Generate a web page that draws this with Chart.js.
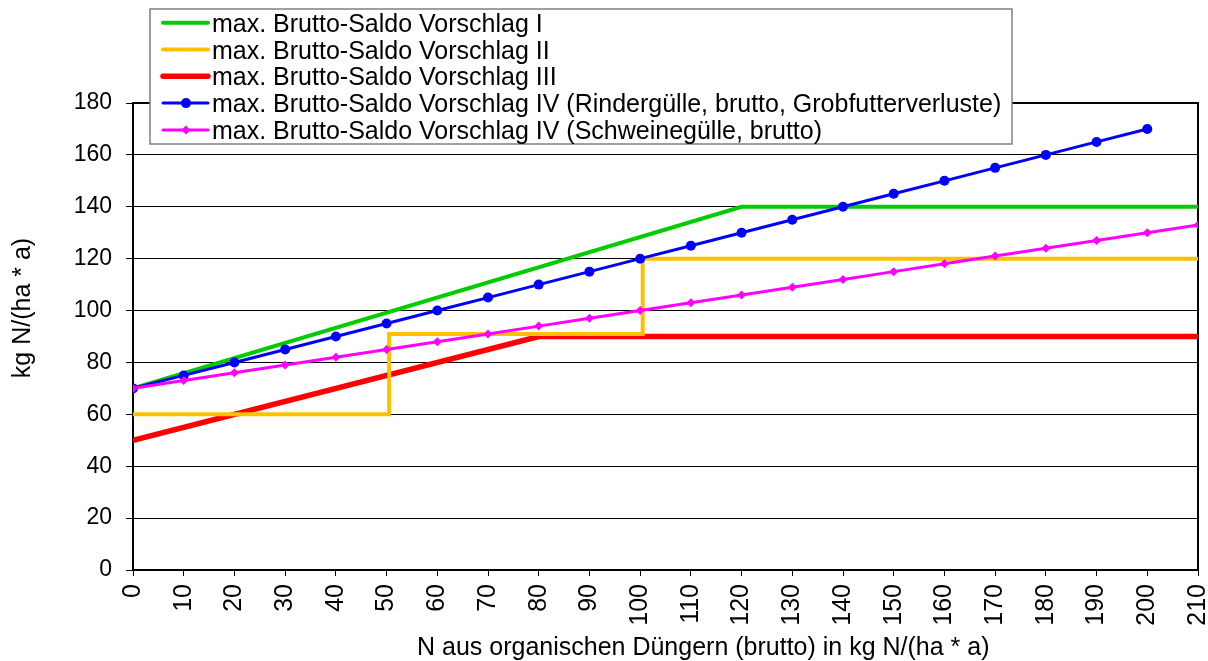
<!DOCTYPE html>
<html>
<head>
<meta charset="utf-8">
<script src="https://cdn.jsdelivr.net/npm/chart.js@4"></script>
<style>
  html, body { margin: 0; padding: 0; background: #fff; }
  canvas { display: block; }
</style>
</head>
<body>
<canvas id="chart" width="1208" height="661"></canvas>
<script>
// series labels
const seriesNames = [
  'max. Brutto-Saldo Vorschlag I',
  'max. Brutto-Saldo Vorschlag II',
  'max. Brutto-Saldo Vorschlag III',
  'max. Brutto-Saldo Vorschlag IV (Rindergülle, brutto, Grobfutterverluste)',
  'max. Brutto-Saldo Vorschlag IV (Schweinegülle, brutto)'
];

// Vorschlag I
const xI = [0, 120, 210];
const yI = [70, 140, 140];

// Vorschlag II (step line)
const xII = [0, 50.5, 50.5, 100.5, 100.5, 210];
const yII = [60, 60, 91, 91, 120, 120];

// Vorschlag III
const xIII = [0, 80, 210];
const yIII = [50, 90, 90];

// Vorschlag IV Rindergülle
const xRind = [0, 10, 20, 30, 40, 50, 60, 70, 80, 90, 100, 110, 120, 130, 140, 150, 160, 170, 180, 190, 200];
const yRind = [70, 75, 80, 85, 90, 95, 100, 105, 110, 115, 120, 125, 130, 135, 140, 145, 150, 155, 160, 165, 170];

// Vorschlag IV Schweinegülle
const xSchw = [0, 10, 20, 30, 40, 50, 60, 70, 80, 90, 100, 110, 120, 130, 140, 150, 160, 170, 180, 190, 200, 210];
const ySchw = [70, 73, 76, 79, 82, 85, 88, 91, 94, 97, 100, 103, 106, 109, 112, 115, 118, 121, 124, 127, 130, 133];

const xTitle = 'N aus organischen Düngern (brutto) in kg N/(ha * a)';
const yTitle = 'kg N/(ha * a)';

const FONT = "'Liberation Sans', Arial, sans-serif";

function pts(xs, ys) {
  return xs.map((x, i) => ({ x: x, y: ys[i] }));
}

const framePlugin = {
  id: 'frame',
  beforeDatasetsDraw(chart) {
    const a = chart.chartArea;
    const ctx = chart.ctx;
    ctx.save();
    ctx.strokeStyle = '#000';
    ctx.lineWidth = 2;
    ctx.strokeRect(a.left, a.top, a.right - a.left, a.bottom - a.top);
    ctx.restore();
  },
  afterDraw(chart) {
    const ctx = chart.ctx;
    ctx.save();

    // axis titles
    ctx.fillStyle = '#000';
    ctx.font = '25px ' + FONT;
    ctx.textAlign = 'left';
    ctx.textBaseline = 'alphabetic';
    ctx.fillText(xTitle, 417, 655);
    ctx.translate(30, 308);
    ctx.rotate(-Math.PI / 2);
    ctx.textAlign = 'center';
    ctx.fillText(yTitle, 0, 0);
    ctx.setTransform(1, 0, 0, 1, 0, 0);

    // legend box
    ctx.fillStyle = '#fff';
    ctx.fillRect(150, 9, 862, 135);
    ctx.strokeStyle = '#808080';
    ctx.lineWidth = 1.5;
    ctx.strokeRect(150, 9, 862, 135);

    chart.data.datasets.forEach((ds, i) => {
      const y = 22.7 + i * 26.8;
      ctx.strokeStyle = ds.borderColor;
      ctx.lineWidth = ds.borderWidth;
      ctx.lineCap = 'round';
      ctx.beginPath();
      ctx.moveTo(163, y);
      ctx.lineTo(208, y);
      ctx.stroke();
      if (ds.pointRadius > 0) {
        ctx.fillStyle = ds.borderColor;
        ctx.beginPath();
        if (ds.pointStyle === 'rectRot') {
          const r = ds.pointRadius;
          ctx.moveTo(186, y - r);
          ctx.lineTo(186 + r, y);
          ctx.lineTo(186, y + r);
          ctx.lineTo(186 - r, y);
          ctx.closePath();
        } else {
          ctx.arc(186, y, ds.pointRadius, 0, Math.PI * 2);
        }
        ctx.fill();
      }
      ctx.fillStyle = '#000';
      ctx.font = '25px ' + FONT;
      ctx.textAlign = 'left';
      ctx.textBaseline = 'alphabetic';
      ctx.fillText(ds.label, 212, y + 9);
    });
    ctx.restore();
  }
};

const ctx = document.getElementById('chart').getContext('2d');
new Chart(ctx, {
  type: 'line',
  data: {
    datasets: [
      {
        label: seriesNames[0], data: pts(xI, yI),
        borderColor: '#00CC00', backgroundColor: '#00CC00', borderWidth: 4,
        pointRadius: 0, order: 2
      },
      {
        label: seriesNames[1], data: pts(xII, yII),
        borderColor: '#FFC000', backgroundColor: '#FFC000', borderWidth: 4,
        pointRadius: 0, order: 3
      },
      {
        label: seriesNames[2], data: pts(xIII, yIII),
        borderColor: '#FF0000', backgroundColor: '#FF0000', borderWidth: 5.5,
        pointRadius: 0, order: 4
      },
      {
        label: seriesNames[3], data: pts(xRind, yRind),
        borderColor: '#0000FF', backgroundColor: '#0000FF', borderWidth: 3,
        pointRadius: 5, pointStyle: 'circle', pointBorderWidth: 0, order: 1
      },
      {
        label: seriesNames[4], data: pts(xSchw, ySchw),
        borderColor: '#FF00FF', backgroundColor: '#FF00FF', borderWidth: 3,
        pointRadius: 4.5, pointStyle: 'rectRot', pointBorderWidth: 0, order: 0
      }
    ]
  },
  options: {
    responsive: false,
    animation: false,
    devicePixelRatio: 1,
    layout: { padding: { top: 103, right: 10, left: 0, bottom: 0 } },
    plugins: {
      legend: { display: false },
      tooltip: { enabled: false }
    },
    elements: { line: { tension: 0, borderCapStyle: 'butt', borderJoinStyle: 'miter' } },
    scales: {
      x: {
        type: 'linear',
        min: 0,
        max: 210,
        afterFit(scale) {
          scale.height = 91;
          scale.paddingLeft = 0;
          scale.paddingRight = 0;
        },
        ticks: {
          stepSize: 10,
          autoSkip: false,
          minRotation: 90,
          maxRotation: 90,
          padding: 8,
          color: '#000',
          font: { family: FONT, size: 25 }
        },
        grid: { drawOnChartArea: false, drawTicks: true, tickLength: 6, color: '#000', lineWidth: 1 },
        border: { display: true, color: '#000', width: 2 }
      },
      y: {
        min: 0,
        max: 180,
        afterFit(scale) {
          scale.width = 133;
          scale.paddingTop = 0;
          scale.paddingBottom = 0;
        },
        ticks: {
          stepSize: 20,
          padding: 14,
          color: '#000',
          font: { family: FONT, size: 23 }
        },
        grid: { color: '#000', lineWidth: 1, tickLength: 7 },
        border: { display: true, color: '#000', width: 2 }
      }
    }
  },
  plugins: [framePlugin]
});
</script>
</body>
</html>
